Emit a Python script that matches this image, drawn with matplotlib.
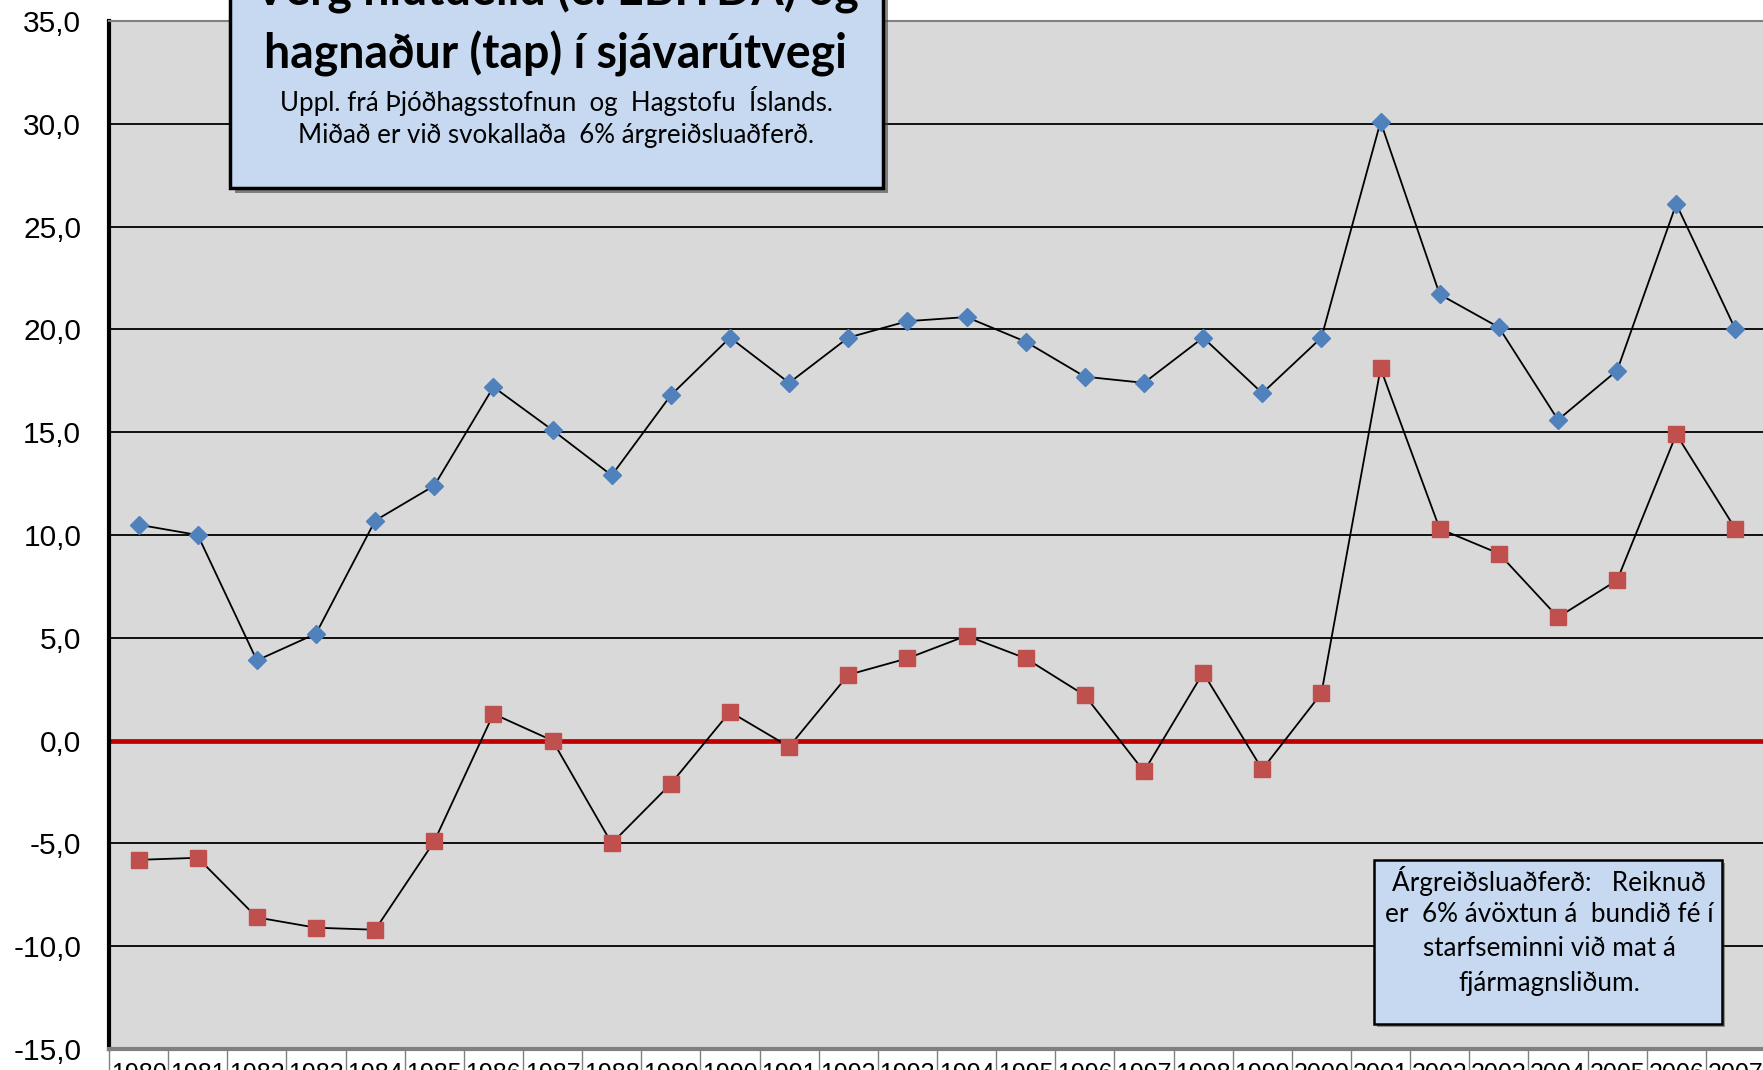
import matplotlib
matplotlib.use("Agg")
import matplotlib.pyplot as plt
from matplotlib.patches import Rectangle
from matplotlib.ticker import FuncFormatter, MultipleLocator
import matplotlib.transforms as mtransforms

# Data
years: list[str] = [str(y) for y in range(1980, 2008)]
ebitda: list[float] = [10.5, 10.0, 3.9, 5.2, 10.7, 12.4, 17.2, 15.1, 12.9, 16.8,
                       19.6, 17.4, 19.6, 20.4, 20.6, 19.4, 17.7, 17.4, 19.6, 16.9,
                       19.6, 30.1, 21.7, 20.1, 15.6, 18.0, 26.1, 20.0]
hagnadur: list[float] = [-5.8, -5.7, -8.6, -9.1, -9.2, -4.9, 1.3, 0.0, -5.0, -2.1,
                         1.4, -0.3, 3.2, 4.0, 5.1, 4.0, 2.2, -1.5, 3.3, -1.4,
                         2.3, 18.1, 10.3, 9.1, 6.0, 7.8, 14.9, 10.3]

title_lines = ["Verg hlutdeild (e. EBITDA) og", "hagnaður (tap) í sjávarútvegi"]
sub_lines = ["Uppl. frá Þjóðhagsstofnun  og  Hagstofu  Íslands.",
             "Miðað er við svokallaða  6% árgreiðsluaðferð."]
note_lines = ["Árgreiðsluaðferð:   Reiknuð", "er  6% ávöxtun á  bundið fé í",
              "starfseminni við mat á", "fjármagnsliðum."]

W, H = 1763, 1070
BOXBLUE = "#c6d9f1"


def fx(x):
    return x / W


def fy(y):
    # y measured from top of image in pixels
    return 1 - y / H


fig = plt.figure(figsize=(W / 100, H / 100), dpi=100)
ax = fig.add_axes([fx(109), fy(1049), fx(1765) - fx(109), fy(21) - fy(1049)])
ax.set_facecolor("#d9d9d9")

x = list(range(len(years)))
ax.set_xlim(-0.5, len(years) - 0.5)
ax.set_ylim(-15, 35)

ax.yaxis.set_major_locator(MultipleLocator(5))
ax.yaxis.set_major_formatter(FuncFormatter(lambda v, p: f"{v:.1f}".replace(".", ",")))
ax.grid(axis="y", color="black", linewidth=1.3, zorder=1)
ax.tick_params(axis="y", length=0, pad=20, labelsize=21.5)
for lab in ax.get_yticklabels():
    lab.set_fontfamily("Liberation Sans")
ax.set_xticks([])

for s in ["top", "right"]:
    ax.spines[s].set_color("#808080")
    ax.spines[s].set_linewidth(1.5)
ax.spines["left"].set_color("black")
ax.spines["left"].set_linewidth(3)
ax.spines["bottom"].set_color("#808080")
ax.spines["bottom"].set_linewidth(3)

# zero line
ax.axhline(0, color="#c00000", linewidth=3.4, zorder=2)

ax.plot(x, ebitda, color="black", linewidth=1.3, marker="D", markersize=9,
        markerfacecolor="#4f81bd", markeredgecolor="#4f81bd", zorder=4)
ax.plot(x, hagnadur, color="black", linewidth=1.3, marker="s", markersize=11,
        markerfacecolor="#c0504d", markeredgecolor="#c0504d", zorder=4)

# category label cells below the axis
trans = mtransforms.blended_transform_factory(ax.transData, ax.transAxes)
for i, yr in enumerate(years):
    ax.text(i, -0.013, yr, transform=trans, ha="center", va="top",
            fontsize=18, family="Liberation Sans", clip_on=False)
    ax.plot([i + 0.5, i + 0.5], [0, -0.05], transform=trans, color="#808080",
            linewidth=1, clip_on=False)
ax.plot([-0.5, -0.5], [0, -0.05], transform=trans, color="#808080",
        linewidth=1, clip_on=False)

# title box
fig.add_artist(Rectangle((fx(235), fy(193)), fx(883) - fx(230), fy(-20) - fy(188),
                         transform=fig.transFigure, facecolor="#404040",
                         edgecolor="none", alpha=0.6, zorder=5))
fig.add_artist(Rectangle((fx(230), fy(188)), fx(883) - fx(230), fy(-20) - fy(188),
                         transform=fig.transFigure, facecolor=BOXBLUE,
                         edgecolor="black", linewidth=2.5, zorder=6))
fig.text(fx(556), fy(-9), title_lines[0], ha="center", va="center", fontsize=33.5,
         fontweight="bold", family="Lato", zorder=7)
fig.text(fx(556), fy(54), title_lines[1], ha="center", va="center", fontsize=33.5,
         fontweight="bold", family="Lato", zorder=7)
fig.text(fx(556), fy(101), sub_lines[0], ha="center", va="center", fontsize=18.6,
         family="Lato", zorder=7)
fig.text(fx(556), fy(136), sub_lines[1], ha="center", va="center", fontsize=18.6,
         family="Lato", zorder=7)

# note box
fig.add_artist(Rectangle((fx(1377), fy(1027)), fx(1722) - fx(1374), fy(860) - fy(1024),
                         transform=fig.transFigure, facecolor="#404040",
                         edgecolor="none", alpha=0.5, zorder=5))
fig.add_artist(Rectangle((fx(1374), fy(1024)), fx(1722) - fx(1374), fy(860) - fy(1024),
                         transform=fig.transFigure, facecolor=BOXBLUE,
                         edgecolor="black", linewidth=1.8, zorder=6))
for k, line in enumerate(note_lines):
    fig.text(fx(1549), fy(881 + 34 * k), line, ha="center", va="center",
             fontsize=18.8, family="Lato", zorder=7)

fig.savefig("out.png", dpi=100)
